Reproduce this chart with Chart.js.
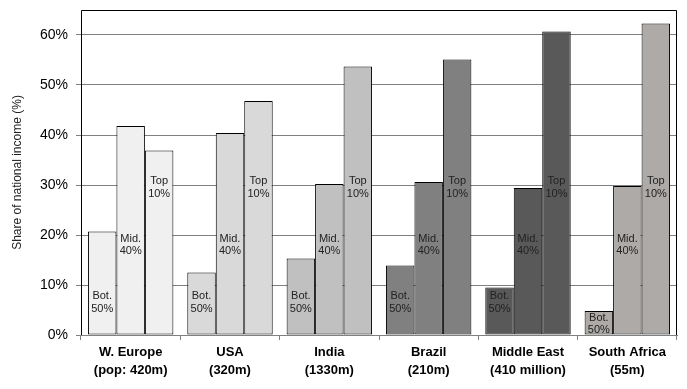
<!DOCTYPE html>
<html>
<head>
<meta charset="utf-8">
<script src="https://cdn.jsdelivr.net/npm/chart.js@4"></script>
<style>
  html, body { margin: 0; padding: 0; background: #fff; }
  #wrap { width: 687px; height: 389px; }
</style>
</head>
<body>
<div id="wrap"><canvas id="incomeChart" width="687" height="389"></canvas></div>
<script>
// Chart data
const regions = ['W. Europe', 'USA', 'India', 'Brazil', 'Middle East', 'South Africa'];
const populations = ['(pop: 420m)', '(320m)', '(1330m)', '(210m)', '(410 million)', '(55m)'];
const seriesNames = ['Bot. 50%', 'Mid. 40%', 'Top 10%'];
const bottom50 = [20.7, 12.5, 15.3, 13.9, 9.5, 4.8];
const middle40 = [41.8, 40.4, 30.2, 30.6, 29.4, 29.8];
const top10 = [36.9, 46.8, 53.7, 55.1, 60.7, 62.3];
const regionColors = ['#f0f0f0', '#d9d9d9', '#c0c0c0', '#808080', '#595959', '#aeaaa8'];

const FONT = 'Arial, "Liberation Sans", sans-serif';

// frame around the plot (top, left, right in black)
const framePlugin = {
    id: 'frame',
    afterDraw(chart) {
        const ctx = chart.ctx;
        const a = chart.chartArea;
        ctx.save();
        ctx.strokeStyle = '#000';
        ctx.lineWidth = 1;
        ctx.beginPath();
        ctx.moveTo(a.left + 0.5, a.bottom);
        ctx.lineTo(a.left + 0.5, a.top + 0.5);
        ctx.lineTo(a.right - 0.5, a.top + 0.5);
        ctx.lineTo(a.right - 0.5, a.bottom);
        ctx.stroke();
        ctx.restore();
    }
};

// "Bot. 50%" etc written inside the bars
const barLabelPlugin = {
    id: 'barLabels',
    afterDatasetsDraw(chart) {
        const ctx = chart.ctx;
        const yScale = chart.scales.y;
        const anchors = [6.5, 18, 29.5];
        ctx.save();
        ctx.font = '11px ' + FONT;
        ctx.fillStyle = '#222';
        ctx.textAlign = 'center';
        ctx.textBaseline = 'middle';
        chart.data.datasets.forEach((ds, i) => {
            const lines = seriesNames[i].split(' ');
            chart.getDatasetMeta(i).data.forEach(bar => {
                let cy = yScale.getPixelForValue(anchors[i]);
                cy = Math.max(cy, bar.y + 13);
                lines.forEach((t, k) => ctx.fillText(t, bar.x, cy + (k - 0.5) * 12.5));
            });
        });
        ctx.restore();
    }
};

const ctx = document.getElementById('incomeChart').getContext('2d');
new Chart(ctx, {
    type: 'bar',
    data: {
        labels: regions.map((r, i) => [r, populations[i]]),
        datasets: [bottom50, middle40, top10].map((values, i) => ({
            label: seriesNames[i],
            data: values,
            backgroundColor: regionColors,
            borderColor: '#000',
            borderWidth: 1,
            borderSkipped: false,
            categoryPercentage: 0.86,
            barPercentage: 1.0
        }))
    },
    options: {
        responsive: false,
        animation: false,
        layout: { padding: { top: 10, right: 10, left: 0, bottom: 0 } },
        plugins: {
            legend: { display: false },
            tooltip: { enabled: false }
        },
        scales: {
            x: {
                afterFit: scale => {
                    scale.height = 54;
                    scale.paddingLeft = 0;
                    scale.paddingRight = 0;
                },
                grid: {
                    offset: true,
                    drawOnChartArea: false,
                    tickLength: 5,
                    color: '#808080'
                },
                border: { color: '#808080' },
                ticks: {
                    color: '#000',
                    padding: 3,
                    maxRotation: 0,
                    font: { family: FONT, size: 13, weight: 'bold', lineHeight: 1.4 }
                }
            },
            y: {
                min: 0,
                max: 65,
                afterFit: scale => {
                    scale.width = 81;
                    scale.paddingTop = 0;
                    scale.paddingBottom = 0;
                },
                afterBuildTicks: scale => {
                    scale.ticks = scale.ticks.filter(t => t.value % 10 === 0);
                },
                grid: { color: '#808080', tickLength: 5 },
                border: { display: false },
                ticks: {
                    stepSize: 10,
                    padding: 8,
                    color: '#000',
                    font: { family: FONT, size: 14 },
                    callback: v => v + '%'
                },
                title: {
                    display: true,
                    text: 'Share of national income (%)',
                    color: '#222',
                    padding: { top: 10, bottom: 0 },
                    font: { family: FONT, size: 12 }
                }
            }
        }
    },
    plugins: [framePlugin, barLabelPlugin]
});
</script>
</body>
</html>
